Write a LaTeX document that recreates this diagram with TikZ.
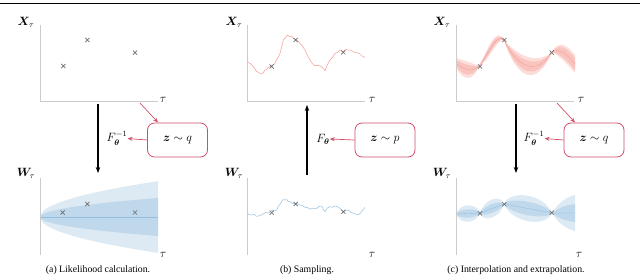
\documentclass[tikz,border=0pt]{standalone}
\usepackage{amsmath,bm}
\usepackage{fontspec}
\setmainfont{Liberation Serif}
\usetikzlibrary{arrows.meta,shapes.misc}
\definecolor{axisgray}{HTML}{CCCCCC}
\definecolor{markgray}{HTML}{6E6E6E}
\definecolor{boxred}{HTML}{D04E68}
\definecolor{redline}{HTML}{F49A94}
\definecolor{redout}{HTML}{FDDDD9}
\definecolor{redin}{HTML}{FAC4BE}
\definecolor{blueout}{HTML}{DDEAF4}
\definecolor{bluein}{HTML}{BFD8EB}
\definecolor{blueline}{HTML}{94BFE0}
\begin{document}
\begin{tikzpicture}[x=1pt,y=-1pt,
  axis/.style={draw=axisgray,line width=0.9pt},
  xmark/.style={cross out,draw=markgray,minimum size=3.4pt,inner sep=0pt,line width=0.7pt},
  mlab/.style={inner sep=0pt,font=\fontsize{11.5}{12}\selectfont},
  zbox/.style={draw=boxred,line width=0.8pt,rounded corners=7pt,fill=white,
    minimum width=60pt,minimum height=34pt,font=\fontsize{12.5}{13}\selectfont},
  flow/.style={line width=1.1pt,-{Stealth[length=6pt,width=4.5pt]}},
  redarrow/.style={draw=boxred,line width=0.7pt,-{Stealth[length=5pt,width=4pt]}},
  capt/.style={font=\fontsize{9.8}{11}\selectfont,inner sep=0pt},
  noisy/.style={line width=0.5pt,line join=round}
]
\useasboundingbox (0,0) rectangle (640,278);
\draw[line width=1.1pt] (0,3.6) -- (640,3.6);

% ================= Panel (a) =================
\coordinate (aXt) at (40,25); \coordinate (aXo) at (40,101); \coordinate (aXe) at (158,101);
\draw[axis] (aXt) -- (aXo) -- (aXe);
\node[mlab] (aXl) at (26,22) {$\bm{X}_\tau$};
\node[mlab] (aXtau) at (163,100) {$\tau$};
\node[xmark] (ax1) at (63.3,66) {};
\node[xmark] (ax2) at (87.3,40) {};
\node[xmark] (ax3) at (135,52.7) {};
\fill[blueout] plot[domain=0:118,samples=60] ({40+\x},{217-3.3*sqrt(\x)})
  -- plot[domain=118:0,samples=60] ({40+\x},{217+3.3*sqrt(\x)}) -- cycle;
\fill[bluein] plot[domain=0:118,samples=60] ({40+\x},{217-1.75*sqrt(\x)})
  -- plot[domain=118:0,samples=60] ({40+\x},{217+1.75*sqrt(\x)}) -- cycle;
\draw[blueline,line width=0.4pt] (40,217) -- (158,217);
\coordinate (aWt) at (40,178); \coordinate (aWo) at (40,255);
\draw[axis] (aWt) -- (aWo);
\node[mlab] (aWl) at (26,173) {$\bm{W}_\tau$};
\node[mlab] (aWtau) at (163,255) {$\tau$};
\node[xmark] (aw1) at (62.7,212.5) {};
\node[xmark] (aw2) at (87.3,204) {};
\node[xmark] (aw3) at (135,212.5) {};
\coordinate (aFs) at (98,104); \coordinate (aFe) at (98,173);
\draw[flow] (aFs) -- (aFe);
\node[mlab] (aF) at (117,138.5) {$F_{\bm{\theta}}^{-1}$};
\node[zbox] (aBox) at (177.5,140) {$\bm{z}\sim q$};
\draw[redarrow] (aBox.west) -- (aF.east);
\coordinate (aDs) at (140,103); \coordinate (aDe) at (158,122.5);
\draw[redarrow] (aDs) -- (aDe);
\node[capt] (aCap) at (98,270) {(a) Likelihood calculation.};

% ================= Panel (b) =================
\coordinate (bXt) at (247,25); \coordinate (bXo) at (247,101); \coordinate (bXe) at (365,101);
\draw[axis] (bXt) -- (bXo) -- (bXe);
\node[mlab] (bXl) at (234,22) {$\bm{X}_\tau$};
\node[mlab] (bXtau) at (372,100) {$\tau$};
\draw[redline,noisy] plot coordinates {
(247.3,61.7) (248.8,62.9) (250.3,63.4) (251.7,65.0) (253.3,66.6) (254.9,69.1) (256.7,71.7) (258.3,72.1) (260.0,73.6) (261.7,74.0) (263.3,72.6) (265.0,70.0) (266.6,69.4) (268.3,67.2) (270.0,66.7) (271.6,65.3) (273.3,64.9) (275.0,63.3) (276.6,59.4) (278.3,57.2) (280.0,53.3) (281.6,47.5) (283.3,40.0) (285.3,37.9) (287.3,35.0) (289.5,36.6) (291.7,36.0) (293.3,38.5) (295.0,39.3) (297.5,40.6) (300.0,43.3) (302.5,46.1) (305.0,50.0) (307.5,55.6) (310.0,60.0) (312.5,63.8) (315.0,66.0) (317.5,65.2) (320.0,66.0) (322.5,67.4) (325.0,70.7) (327.5,64.5) (330.0,60.0) (332.5,57.2) (335.0,53.3) (337.5,52.4) (340.0,50.0) (341.7,51.2) (343.3,51.7) (345.8,49.6) (348.3,50.0) (351.1,50.3) (353.9,52.1) (356.7,52.7) (359.5,53.4) (362.2,56.1) (365.0,57.3)};
\node[xmark] (bx1) at (271.7,66.5) {};
\node[xmark] (bx2) at (295.7,40) {};
\node[xmark] (bx3) at (343.3,52.3) {};
\coordinate (bWt) at (247,178); \coordinate (bWo) at (247,255);
\draw[axis] (bWt) -- (bWo);
\node[mlab] (bWl) at (234,173) {$\bm{W}_\tau$};
\node[mlab] (bWtau) at (372,255) {$\tau$};
\draw[blueline,noisy] plot coordinates {
(247.3,213.3) (249.5,214.6) (251.7,215.0) (254,214.2) (256.2,216.3) (258.3,216.0) (260.8,215.1) (263.3,214.0) (265.5,212.4) (267.8,213.1) (270.0,211.7) (272.2,210.2) (274.5,211.0) (276.7,210.0) (278.3,206.5) (280,204.3) (281.7,201.7) (283.3,199.6) (285.0,200.0) (286.7,199.5) (288.3,201.6) (290.0,201.7) (292.5,203.4) (295.0,204.0) (297.5,203.6) (300.0,205.0) (302.5,205.6) (305.0,207.3) (307.5,207.4) (310.0,209.3) (312.2,208.0) (314.4,209.0) (316.7,208.3) (319.2,206.4) (321.7,206.0) (323.3,209.3) (325.0,211.7) (327.5,208.0) (330.0,206.7) (332.5,207.3) (335.0,206.0) (337.5,206.7) (340.0,208.3) (341.7,210.4) (343.3,211.7) (345.8,210.5) (348.3,210.0) (350.8,212.2) (353.3,213.3) (355.8,214.1) (358.3,215.0) (360.5,213.0) (362.8,210.0) (365.0,207.3)};
\node[xmark] (bw1) at (271.7,212.7) {};
\node[xmark] (bw2) at (295.7,204) {};
\node[xmark] (bw3) at (343.3,211.7) {};
\coordinate (bFs) at (307,175); \coordinate (bFe) at (307,105);
\draw[flow] (bFs) -- (bFe);
\node[mlab] (bF) at (323,139) {$F_{\bm{\theta}}$};
\node[zbox] (bBox) at (385,140) {$\bm{z}\sim p$};
\draw[redarrow] (bBox.west) -- (bF.east);
\node[capt] (bCap) at (307,270) {(b) Sampling.};

% ================= Panel (c) =================
\coordinate (cXt) at (456,25); \coordinate (cXo) at (456,101); \coordinate (cXe) at (574,101);
\fill[redout] (456,58) .. controls (463,60) and (472,63) .. (479,66)
   .. controls (472,83) and (463,80) .. (456,68) -- cycle;
\fill[redout] (479,66) .. controls (488,49) and (496,25) .. (504,40)
   .. controls (496,39) and (488,63) .. (479,66) -- cycle;
\fill[redout] (504,40) .. controls (516,54) and (536,66) .. (552,52)
   .. controls (536,90) and (516,78) .. (504,40) -- cycle;
\fill[redout] (552,52) .. controls (560,38) and (568,47) .. (575,55)
   -- (575,73) .. controls (568,65) and (560,56) .. (552,52) -- cycle;
\fill[redin] (456,60) .. controls (463,64) and (472,67) .. (479,66)
   .. controls (472,79) and (463,76) .. (456,66) -- cycle;
\fill[redin] (479,66) .. controls (488,52) and (496,28) .. (504,40)
   .. controls (496,36) and (488,60) .. (479,66) -- cycle;
\fill[redin] (504,40) .. controls (516,59) and (536,71) .. (552,52)
   .. controls (536,85) and (516,73) .. (504,40) -- cycle;
\fill[redin] (552,52) .. controls (560,41) and (568,50) .. (575,58)
   -- (575,70) .. controls (568,62) and (560,53) .. (552,52) -- cycle;
\draw[redline,line width=0.35pt] (456,63) .. controls (463,70) and (472,73) .. (479,66)
   .. controls (488,56) and (496,32) .. (504,40)
   .. controls (516,66) and (536,78) .. (552,52)
   .. controls (560,47) and (568,56) .. (575,64);
\draw[axis] (cXt) -- (cXo) -- (cXe);
\node[mlab] (cXl) at (442,22) {$\bm{X}_\tau$};
\node[mlab] (cXtau) at (581,100) {$\tau$};
\node[xmark] (cx1) at (480,66.5) {};
\node[xmark] (cx2) at (504.3,40) {};
\node[xmark] (cx3) at (551.7,52.5) {};
\fill[blueout] (456,214) .. controls (459.6,202.85) and (476.4,202.15) .. (480,213)
   .. controls (476.4,224.15) and (459.6,224.85) .. (456,214) -- cycle;
\fill[blueout] (480,213) .. controls (483.6,199.6) and (500.4,193.3) .. (504,204)
   .. controls (500.4,217.4) and (483.6,223.7) .. (480,213) -- cycle;
\fill[blueout] (504,204) .. controls (511.2,188.35) and (544.8,194.65) .. (552,213)
   .. controls (544.8,228.65) and (511.2,222.35) .. (504,204) -- cycle;
\fill[blueout] (552,213) .. controls (558,203) and (566,197) .. (575,195)
   -- (575,231) .. controls (566,229) and (558,223) .. (552,213) -- cycle;
\fill[bluein] (456,214) .. controls (459.6,208.35) and (476.4,207.65) .. (480,213)
   .. controls (476.4,218.65) and (459.6,219.35) .. (456,214) -- cycle;
\fill[bluein] (480,213) .. controls (483.6,205.6) and (500.4,199.3) .. (504,204)
   .. controls (500.4,211.3) and (483.6,217.6) .. (480,213) -- cycle;
\fill[bluein] (504,204) .. controls (511.2,196.35) and (544.8,202.65) .. (552,213)
   .. controls (544.8,220.65) and (511.2,214.35) .. (504,204) -- cycle;
\fill[bluein] (552,213) .. controls (558,208) and (566,205) .. (575,204)
   -- (575,222) .. controls (566,221) and (558,218) .. (552,213) -- cycle;
\draw[blueline,line width=0.35pt] (456,214) -- (480,213) -- (504,204) -- (552,213) -- (575,213);
\coordinate (cWt) at (456,178); \coordinate (cWo) at (456,255);
\draw[axis] (cWt) -- (cWo);
\node[mlab] (cWl) at (442,173) {$\bm{W}_\tau$};
\node[mlab] (cWtau) at (579,255) {$\tau$};
\node[xmark] (cw1) at (480,213.3) {};
\node[xmark] (cw2) at (504.3,204.3) {};
\node[xmark] (cw3) at (551.7,212.7) {};
\coordinate (cFs) at (516,104); \coordinate (cFe) at (516,173);
\draw[flow] (cFs) -- (cFe);
\node[mlab] (cF) at (534,138.5) {$F_{\bm{\theta}}^{-1}$};
\node[zbox] (cBox) at (594,140) {$\bm{z}\sim q$};
\draw[redarrow] (cBox.west) -- (cF.east);
\coordinate (cDs) at (557,103); \coordinate (cDe) at (575,122.5);
\draw[redarrow] (cDs) -- (cDe);
\node[capt] (cCap) at (516,270) {(c) Interpolation and extrapolation.};
\end{tikzpicture}
\end{document}
